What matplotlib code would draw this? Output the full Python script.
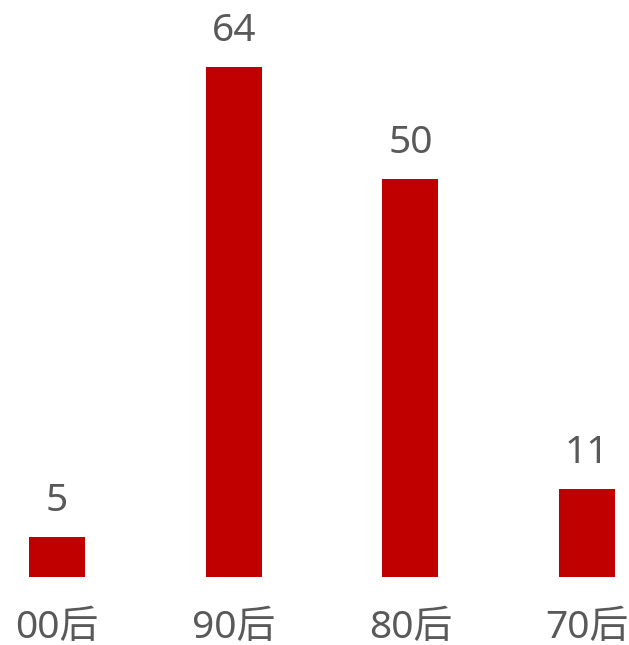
import matplotlib

matplotlib.use("Agg")
import matplotlib.pyplot as plt

plt.rcParams["font.family"] = ["Noto Sans", "Noto Sans CJK SC", "DejaVu Sans"]

categories = ["00后", "90后", "80后", "70后"]
values = [5, 64, 50, 11]

BAR_COLOR = "#C00000"
TEXT_COLOR = "#595959"

fig = plt.figure(figsize=(6.29, 6.45), dpi=100)
ax = fig.add_axes([0, 0, 1, 1])

px_per_unit = 510 / 64
x = list(range(len(categories)))
ax.bar(x, values, width=0.317, color=BAR_COLOR)

for xi, v, cat in zip(x, values, categories):
    ax.text(xi, v + 26 / px_per_unit, str(v), ha="center", va="baseline",
            fontsize=28, color=TEXT_COLOR)
    ax.text(xi, -61 / px_per_unit, cat, ha="center", va="baseline",
            fontsize=28, color=TEXT_COLOR)

ax.set_xlim(-57 / 176.67, 3 + 42 / 176.67)
ax.set_ylim(-68 / px_per_unit, 577 / px_per_unit)
ax.axis("off")

fig.savefig("out.png", dpi=100)
